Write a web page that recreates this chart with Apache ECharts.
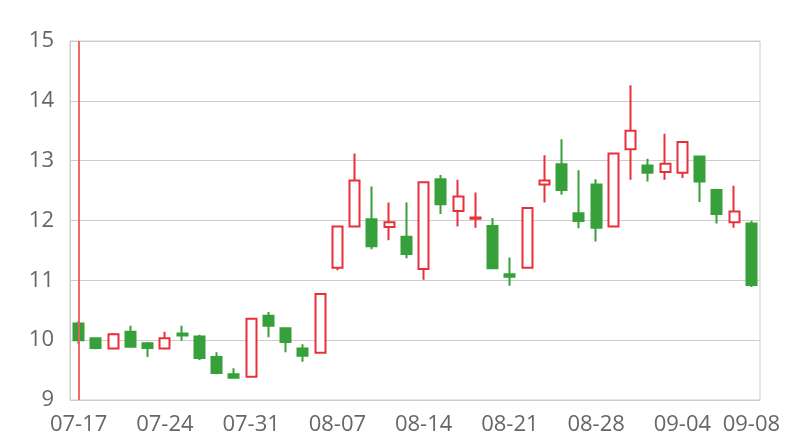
<!DOCTYPE html>
<html>
<head>
<meta charset="utf-8">
<script src="https://cdn.jsdelivr.net/npm/echarts@6/dist/echarts.min.js"></script>
<style>html,body{margin:0;padding:0;background:#fff;}#main{width:800px;height:440px;}</style>
</head>
<body>
<div id="main"></div>
<script>
var dates = ['07-17','07-18','07-19','07-20','07-21','07-24','07-25','07-26','07-27','07-28',
  '07-31','08-01','08-02','08-03','08-04','08-07','08-08','08-09','08-10','08-11',
  '08-14','08-15','08-16','08-17','08-18','08-21','08-22','08-23','08-24','08-25',
  '08-28','08-29','08-30','08-31','09-01','09-04','09-05','09-06','09-07','09-08'];
var opens = [10.28,10.03,9.86,10.14,9.95,9.86,10.11,10.06,9.72,9.43,
  9.39,10.41,10.20,9.86,9.79,11.21,11.90,12.02,11.89,11.73,
  11.19,12.69,12.16,12.03,11.91,11.10,11.21,12.60,12.94,12.12,
  12.60,11.90,13.19,12.92,12.81,12.80,13.07,12.51,11.97,11.95];
var closes = [10.00,9.87,10.10,9.89,9.87,10.03,10.08,9.70,9.45,9.37,
  10.36,10.24,9.97,9.74,10.77,11.90,12.67,11.57,11.97,11.44,
  12.64,12.27,12.40,12.05,11.20,11.06,12.21,12.67,12.51,11.99,
  11.88,13.12,13.50,12.80,12.95,13.31,12.65,12.11,12.15,10.92];
var lows = [9.93,9.85,9.85,9.88,9.72,9.85,9.99,9.67,9.43,9.36,
  9.38,10.05,9.80,9.64,9.78,11.17,11.90,11.52,11.67,11.37,
  11.01,12.11,11.90,11.88,11.19,10.91,11.20,12.30,12.43,11.87,
  11.65,11.90,12.68,12.65,12.68,12.71,12.31,11.95,11.88,10.89];
var highs = [10.32,10.04,10.12,10.24,9.97,10.14,10.24,10.09,9.80,9.53,
  10.37,10.47,10.21,9.93,10.78,11.90,13.12,12.57,12.30,12.30,
  12.65,12.76,12.68,12.47,12.04,11.38,12.21,13.09,13.36,12.84,
  12.69,13.13,14.26,13.03,13.45,13.31,13.07,12.51,12.58,11.99];
var markedDate = '07-17';
var yTicks = { min: 9, max: 15, interval: 1 };

var candleData = dates.map(function (d, i) {
  return [opens[i], closes[i], lows[i], highs[i]];
});

var chart = echarts.init(document.getElementById('main'));
chart.setOption({
  animation: false,
  textStyle: { fontFamily: 'Open Sans' },
  grid: { left: 70, right: 40, top: 41, bottom: 40, show: true, borderColor: '#ccc', borderWidth: 1 },
  xAxis: {
    type: 'category',
    data: dates,
    boundaryGap: true,
    axisLine: { show: false },
    axisTick: { show: false },
    splitLine: { show: false },
    axisLabel: {
      color: '#666', fontSize: 22, fontFamily: 'Open Sans', margin: 14,
      interval: function (i) { return i % 5 === 0 || i === dates.length - 1; }
    }
  },
  yAxis: {
    type: 'value',
    min: yTicks.min, max: yTicks.max, interval: yTicks.interval,
    axisLine: { show: true, lineStyle: { color: '#ccc' } },
    axisTick: { show: false },
    splitLine: { show: true, lineStyle: { color: '#ccc' } },
    axisLabel: { color: '#666', fontSize: 22, fontFamily: 'Open Sans', margin: 16 }
  },
  series: [{
    type: 'candlestick',
    data: candleData,
    barWidth: '62%',
    itemStyle: {
      color: '#ffffff',
      color0: '#36a03a',
      borderColor: '#e8303a',
      borderColor0: '#36a03a',
      borderWidth: 2
    },
    markLine: {
      silent: true,
      symbol: ['none', 'none'],
      label: { show: false },
      lineStyle: { color: '#f05a5a', width: 2, type: 'solid', opacity: 0.9 },
      data: [{ xAxis: markedDate }]
    }
  }]
});
</script>
</body>
</html>
